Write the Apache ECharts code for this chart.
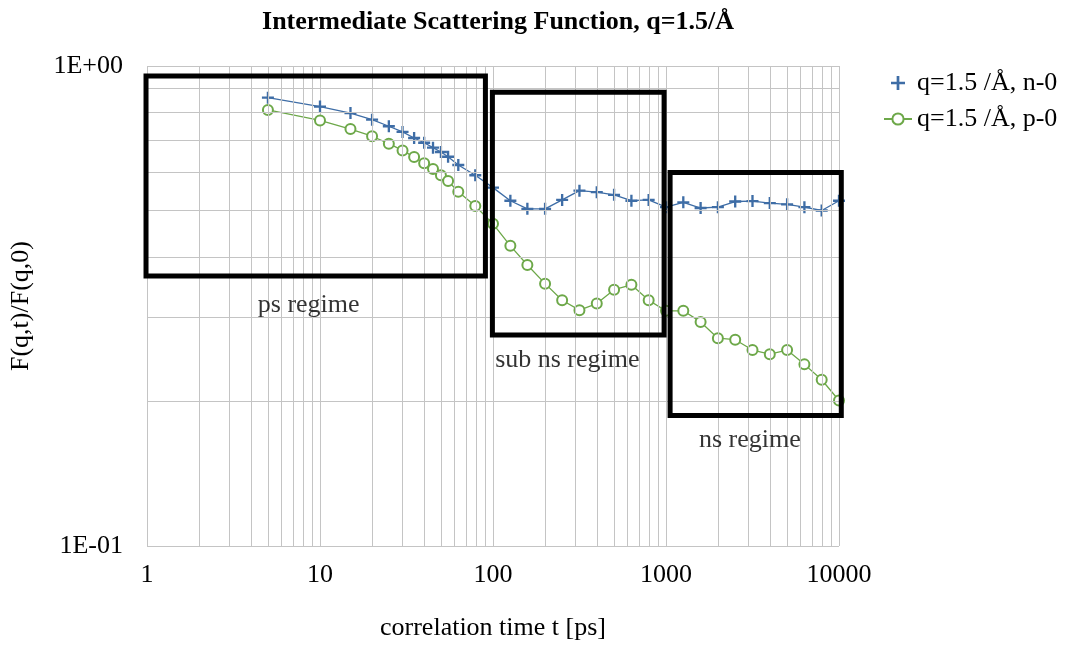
<!DOCTYPE html>
<html>
<head>
<meta charset="utf-8">
<script src="https://cdn.jsdelivr.net/npm/echarts@6/dist/echarts.min.js"></script>
<style>
  html, body { margin: 0; padding: 0; background: #fff; }
  #chart { width: 1072px; height: 646px; }
</style>
</head>
<body>
<div id="chart"></div>
<script>
// Correlation times [ps]
const times = [5, 10, 15, 20, 25, 30, 35, 40, 45, 50, 55, 63, 79,
  100, 126, 158, 200, 251, 316, 398, 501, 631, 794,
  1000, 1259, 1585, 1995, 2512, 3162, 3981, 5012, 6310, 7943, 10000];

// F(q,t)/F(q,0) for the two runs
const nValues = [0.859, 0.823, 0.798, 0.773, 0.749, 0.729, 0.708, 0.692, 0.676, 0.662, 0.647, 0.622, 0.592,
  0.558, 0.524, 0.504, 0.504, 0.526, 0.550, 0.546, 0.539, 0.524, 0.526,
  0.508, 0.520, 0.506, 0.508, 0.522, 0.523, 0.518, 0.515, 0.508, 0.500, 0.524];
const pValues = [0.810, 0.770, 0.739, 0.714, 0.689, 0.667, 0.646, 0.627, 0.610, 0.592, 0.576, 0.547, 0.511,
  0.469, 0.422, 0.385, 0.352, 0.325, 0.310, 0.320, 0.342, 0.350, 0.325,
  0.309, 0.309, 0.293, 0.271, 0.269, 0.256, 0.251, 0.256, 0.239, 0.222, 0.201];

const seriesNames = ['q=1.5 /Å, n-0', 'q=1.5 /Å, p-0'];

// Regime boxes in data units: [tStart, tEnd, fLow, fHigh]
const regimeBoxes = [
  [0.987, 90.4, 0.365, 0.953],
  [99.2, 975, 0.275, 0.882],
  [1056, 10310, 0.187, 0.600]
];
// Regime captions anchored in data units: [t, f, text]
const regimeLabels = [
  [8.6, 0.318, 'ps regime'],
  [269, 0.244, 'sub ns regime'],
  [3055, 0.166, 'ns regime']
];

// Minor log grid positions
const xMinor = [2,3,4,5,6,7,8,9, 20,30,40,50,60,70,80,90, 200,300,400,500,600,700,800,900, 2000,3000,4000,5000,6000,7000,8000,9000];
const yMinor = [0.2, 0.3, 0.4, 0.5, 0.6, 0.7, 0.8, 0.9];

const SERIF = "'Liberation Serif', 'Times New Roman', serif";
const FS = 26;
const BLUE = '#3E6DA6';
const GREEN = '#6DA849';
const GRID = '#c4c4c4';
const PLUS = 'path://M5,0H7.4V5H12.4V7.4H7.4V12.4H5V7.4H0V5H5Z';

function sci(v) {
  const e = Math.round(Math.log10(v));
  const s = e < 0 ? '-' : '+';
  const a = Math.abs(e);
  return '1E' + s + (a < 10 ? '0' + a : a);
}

const chart = echarts.init(document.getElementById('chart'), null, { renderer: 'canvas' });

chart.setOption({
  backgroundColor: '#fff',
  animation: false,
  title: {
    text: 'Intermediate Scattering Function, q=1.5/Å',
    left: 493, top: 4, textAlign: 'center',
    textStyle: { fontFamily: SERIF, fontSize: 26, fontWeight: 'bold', color: '#000' }
  },
  legend: {
    orient: 'vertical',
    left: 878, top: 65,
    itemGap: 10,
    itemWidth: 28, itemHeight: 14,
    textStyle: { fontFamily: SERIF, fontSize: FS, color: '#000' },
    data: [
      { name: seriesNames[0], icon: PLUS, itemStyle: { color: BLUE } },
      { name: seriesNames[1] }
    ]
  },
  grid: { left: 146, right: 233, top: 66, bottom: 95, containLabel: false },
  xAxis: {
    type: 'log', logBase: 10, min: 1, max: 10000,
    name: 'correlation time t [ps]',
    nameLocation: 'middle', nameGap: 69,
    nameTextStyle: { fontFamily: SERIF, fontSize: FS, color: '#000' },
    axisLine: { show: false }, axisTick: { show: false },
    axisLabel: { fontFamily: SERIF, fontSize: FS, color: '#000', margin: 16, formatter: v => String(v) },
    splitLine: { show: true, lineStyle: { color: GRID, width: 1 } }
  },
  yAxis: {
    type: 'log', logBase: 10, min: 0.1, max: 1,
    name: 'F(q,t)/F(q,0)',
    nameLocation: 'middle', nameGap: 113,
    nameTextStyle: { fontFamily: SERIF, fontSize: FS, color: '#000' },
    axisLine: { show: false }, axisTick: { show: false },
    axisLabel: { fontFamily: SERIF, fontSize: FS, color: '#000', margin: 24, formatter: sci },
    splitLine: { show: true, lineStyle: { color: GRID, width: 1 } }
  },
  series: [
    {
      // minor log grid lines
      type: 'line', data: [], silent: true, z: 1,
      markLine: {
        silent: true, symbol: 'none', animation: false,
        label: { show: false },
        lineStyle: { color: GRID, width: 1, type: 'solid' },
        emphasis: { disabled: true },
        data: xMinor.map(v => ({ xAxis: v })).concat(yMinor.map(v => ({ yAxis: v })))
      }
    },
    {
      name: seriesNames[0], type: 'line', z: 3,
      data: times.map((t, i) => [t, nValues[i]]),
      symbol: PLUS, symbolSize: 12,
      itemStyle: { color: BLUE },
      lineStyle: { color: BLUE, width: 1.3 }
    },
    {
      name: seriesNames[1], type: 'line', z: 2,
      data: times.map((t, i) => [t, pValues[i]]),
      symbol: 'emptyCircle', symbolSize: 10,
      itemStyle: { color: GREEN, borderWidth: 2 },
      lineStyle: { color: GREEN, width: 1.3 }
    },
    {
      // regime boxes
      type: 'custom', z: 5, silent: true, clip: false,
      data: regimeBoxes,
      renderItem: function (params, api) {
        const p0 = api.coord([api.value(0), api.value(3)]);
        const p1 = api.coord([api.value(1), api.value(2)]);
        return {
          type: 'rect',
          shape: { x: p0[0], y: p0[1], width: p1[0] - p0[0], height: p1[1] - p0[1] },
          style: { fill: 'none', stroke: '#000', lineWidth: 5 }
        };
      }
    },
    {
      // regime captions
      type: 'scatter', z: 6, silent: true,
      data: regimeLabels.map(r => ({ value: [r[0], r[1]], name: r[2] })),
      symbolSize: 0,
      label: {
        show: true, position: 'inside', formatter: '{b}',
        fontFamily: SERIF, fontSize: FS, color: '#000'
      }
    }
  ]
});
</script>
</body>
</html>
